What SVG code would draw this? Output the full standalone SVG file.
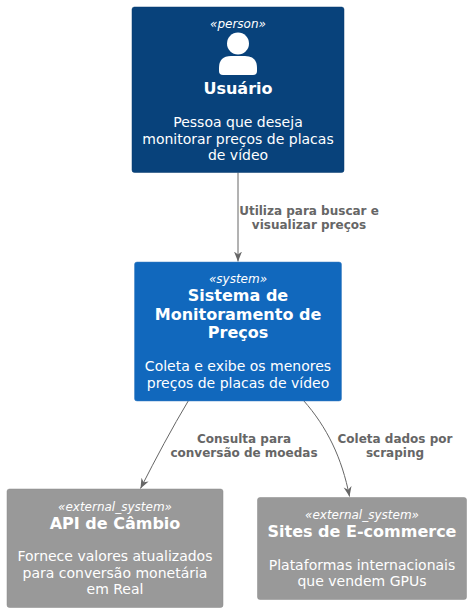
<svg xmlns="http://www.w3.org/2000/svg" width="471" height="612" viewBox="0 0 471 612">
<style>
text{font-family:"DejaVu Sans",sans-serif;text-anchor:middle;fill:#FFFFFF}
.st{font-size:12px;font-style:italic}
.nm{font-size:16px;font-weight:bold}
.ds{font-size:14px}
.lb{font-size:12px;font-weight:bold;fill:#666666}
.box{stroke-width:.5}
.ln{fill:none;stroke:#666666;stroke-width:1}
</style>
<defs>
<marker id="ah" markerUnits="userSpaceOnUse" markerWidth="12" markerHeight="12" refX="10" refY="5" orient="auto">
<path d="M0,1 L10,5 L0,9 L3,5 Z" fill="#666666"/>
</marker>
</defs>
<rect width="471" height="612" fill="#FFFFFF"/>
<g id="connectors">
<path class="ln" marker-end="url(#ah)" d="M238,172.500 L238,261.500"/>
<path class="ln" marker-end="url(#ah)" d="M188.500,400.500 C172,428 156,458 140.500,488.500"/>
<path class="ln" marker-end="url(#ah)" d="M303.500,400.500 C327,427 342,458 349.500,496.500"/>
<text class="lb" x="309" y="215">Utiliza para buscar e</text>
<text class="lb" x="309" y="229">visualizar preços</text>
<text class="lb" x="244" y="443">Consulta para</text>
<text class="lb" x="244" y="457">conversão de moedas</text>
<text class="lb" x="395" y="443">Coleta dados por</text>
<text class="lb" x="395" y="457">scraping</text>
</g>
<g id="usuario">
<rect class="box" x="132" y="7" width="212" height="165.500" rx="2.500" fill="#08427B" stroke="#073B6F"/>
<text class="st" x="238" y="28">«person»</text>
<circle cx="238" cy="43.500" r="11" fill="#FFFFFF"/>
<path d="M223,75 L253,75 Q257,75 257,71 L257,68 Q257,56 245,56 L231,56 Q219,56 219,68 L219,71 Q219,75 223,75 Z" fill="#FFFFFF"/>
<text class="nm" x="238" y="94">Usuário</text>
<text class="ds" x="238" y="127">Pessoa que deseja</text>
<text class="ds" x="238" y="143.500">monitorar preços de placas</text>
<text class="ds" x="238" y="160">de vídeo</text>
</g>
<g id="sistema">
<rect class="box" x="134.500" y="262" width="207" height="139" rx="2.500" fill="#1168BD" stroke="#3C7FC0"/>
<text class="st" x="238" y="283">«system»</text>
<text class="nm" x="238" y="301">Sistema de</text>
<text class="nm" x="238" y="319.500">Monitoramento de</text>
<text class="nm" x="238" y="338">Preços</text>
<text class="ds" x="238" y="371">Coleta e exibe os menores</text>
<text class="ds" x="238" y="387.500">preços de placas de vídeo</text>
</g>
<g id="api">
<rect class="box" x="7" y="489" width="216" height="118.500" rx="2.500" fill="#999999" stroke="#8A8A8A"/>
<text class="st" x="115" y="511">«external_system»</text>
<text class="nm" x="115" y="529">API de Câmbio</text>
<text class="ds" x="115" y="561">Fornece valores atualizados</text>
<text class="ds" x="115" y="578">para conversão monetária</text>
<text class="ds" x="115" y="594">em Real</text>
</g>
<g id="sites">
<rect class="box" x="257.500" y="497.500" width="209" height="102" rx="2.500" fill="#999999" stroke="#8A8A8A"/>
<text class="st" x="362" y="519">«external_system»</text>
<text class="nm" x="362" y="537">Sites de E-commerce</text>
<text class="ds" x="362" y="570">Plataformas internacionais</text>
<text class="ds" x="362" y="586">que vendem GPUs</text>
</g>
</svg>
